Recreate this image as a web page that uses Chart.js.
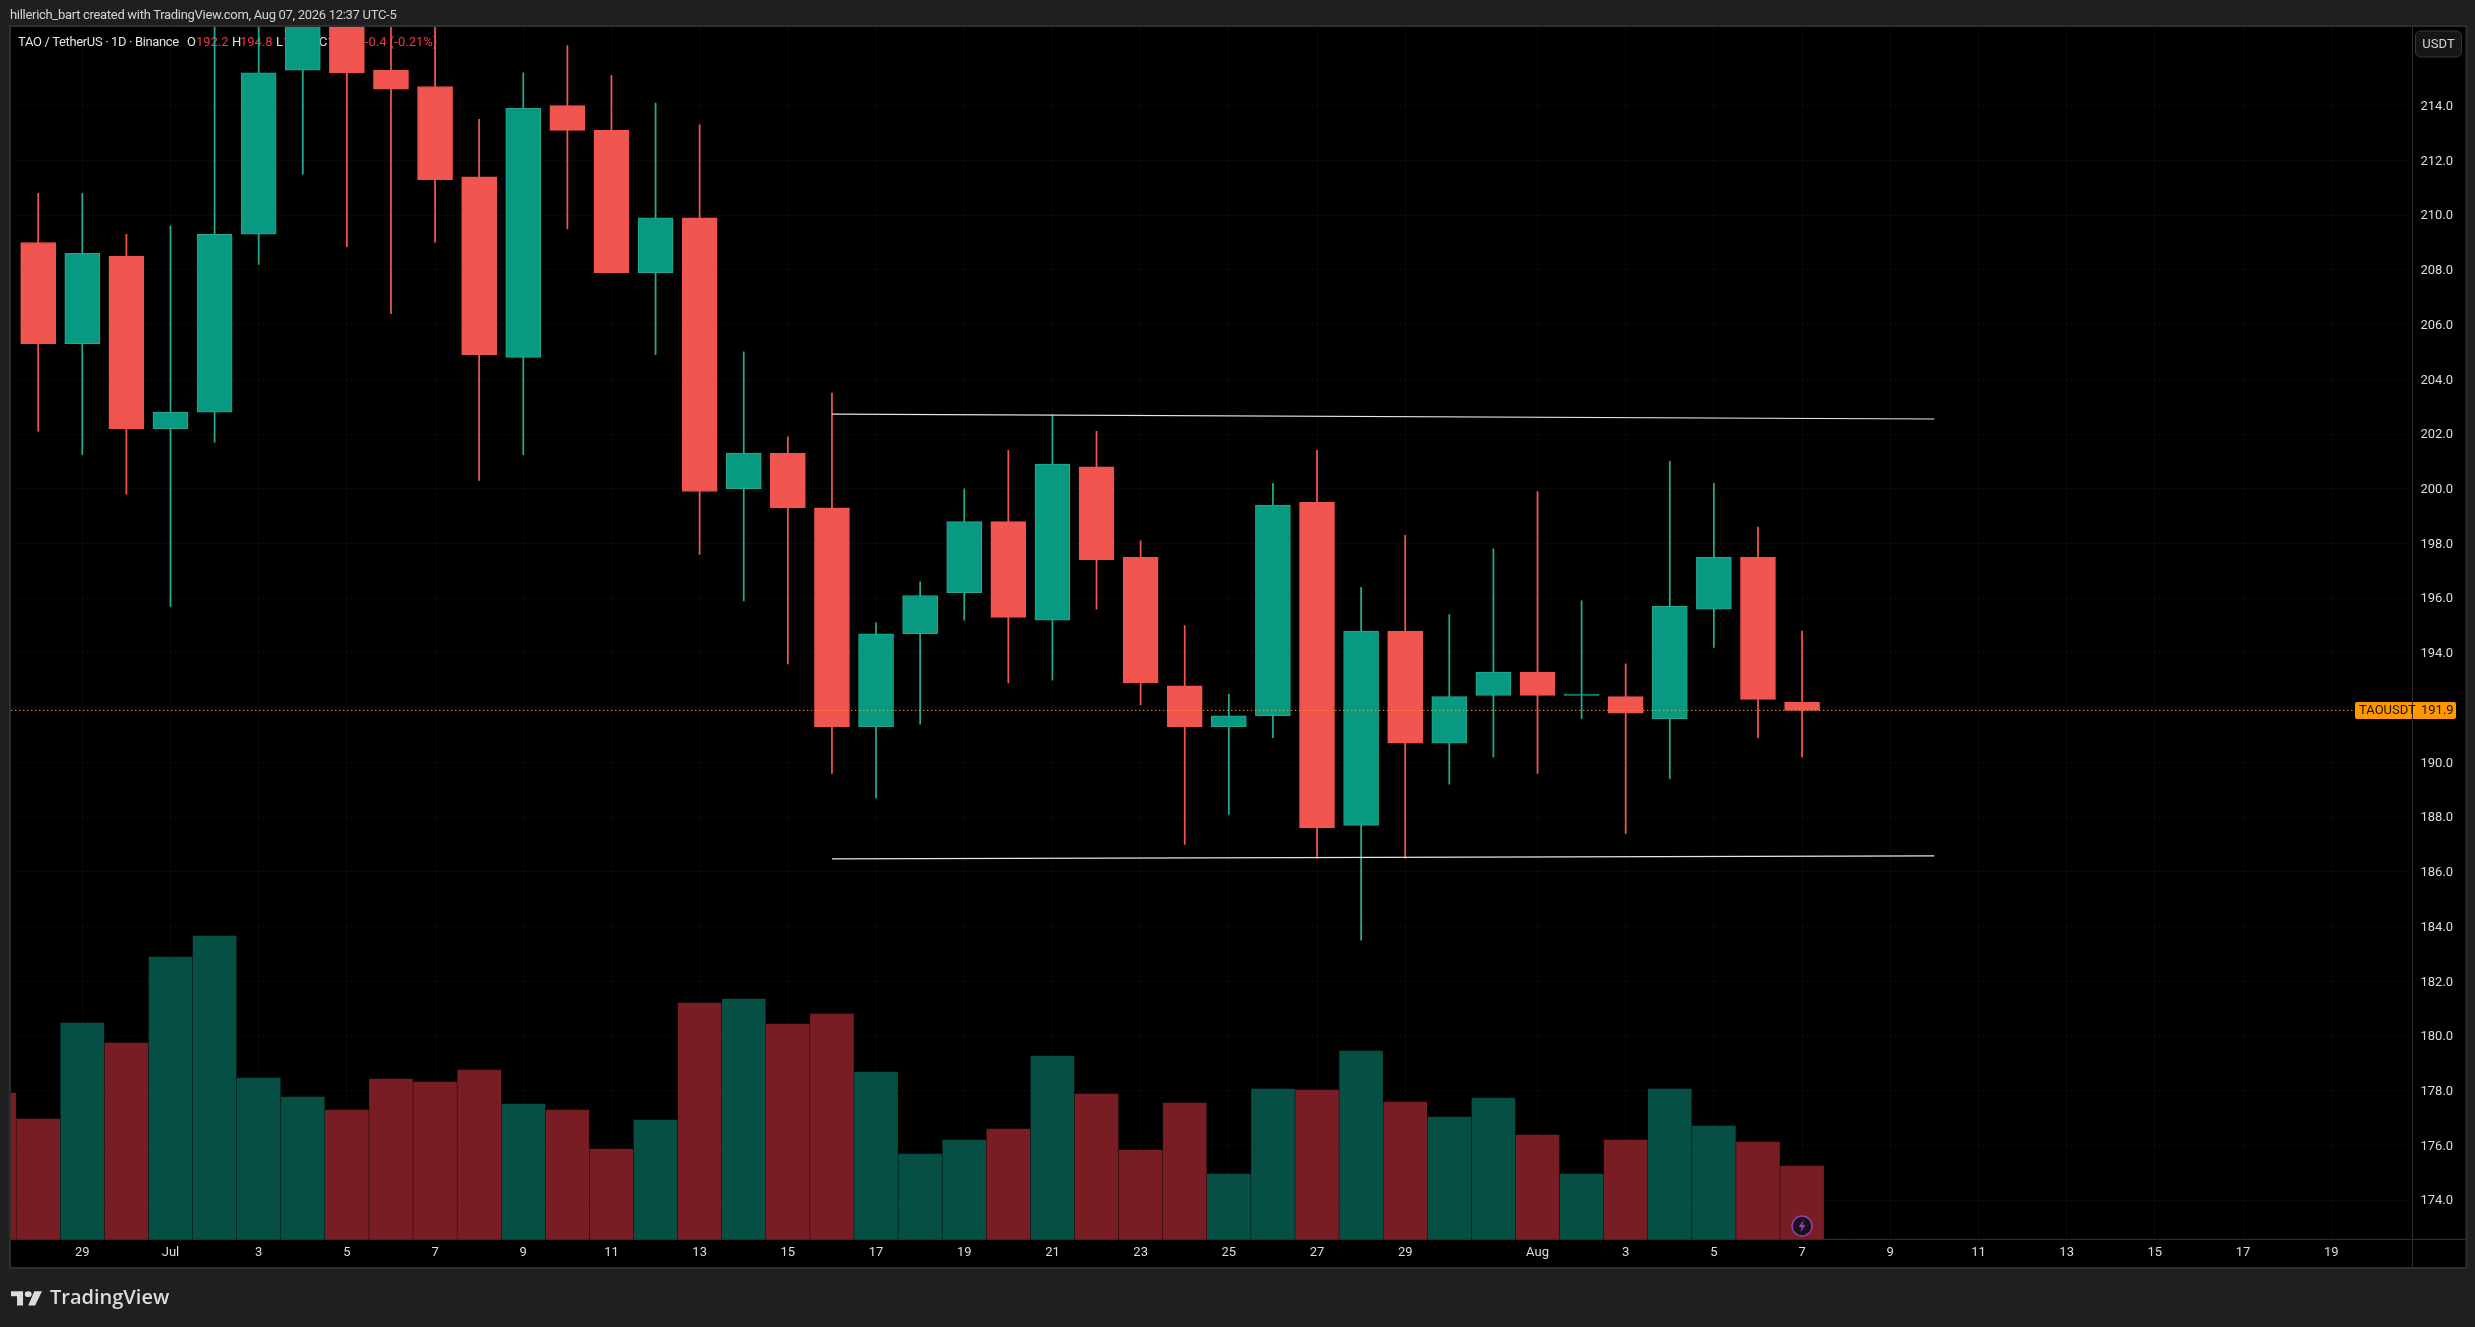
<!DOCTYPE html>
<html>
<head>
<meta charset="utf-8">
<title>TAO / TetherUS</title>
<script src="https://cdn.jsdelivr.net/npm/chart.js@4"></script>
<style>
    html, body { margin: 0; padding: 0; background: #1f1f1f; }
    body { width: 2475px; height: 1327px; position: relative; overflow: hidden; }
    canvas { position: absolute; left: 0; top: 0; }
    .header { position: absolute; left: 10px; top: 6px; font: 13px/18px Roboto, sans-serif; letter-spacing: -0.3px; color: #d4d4d4; white-space: nowrap; }
    .brand { position: absolute; left: 11px; top: 1282px; height: 30px; display: flex; align-items: center; color: #dcdcdc; font: 600 20px/30px "Open Sans", sans-serif; }
    .brand svg { width: 31px; height: 20px; margin-right: 8px; fill: #dcdcdc; }
</style>
</head>
<body>
<canvas id="chart" width="2475" height="1327"></canvas>
<div class="header">hillerich_bart created with TradingView.com, Aug 07, 2026 12:37 UTC-5</div>
<div class="brand"><svg viewBox="0 0 36 28" preserveAspectRatio="none"><path d="M14 6H0v7h7v13h7V6zM28 26h-8L27 6h9l-8 20zM20 14a4 4 0 1 0 0-8 4 4 0 0 0 0 8z"/></svg>TradingView</div>
<script>
// days are counted from Jun 29 = 0, first candle is Jun 28
const firstCandleDay = -1;
const opens  = [209.0, 205.3, 208.5, 202.2, 202.8, 209.3, 215.3, 218.6, 215.3, 214.7, 211.4, 204.8, 214.0, 213.1, 207.9, 209.9, 200.0, 201.3, 199.3, 191.3, 194.7, 196.2, 198.8, 195.2, 200.8, 197.5, 192.8, 191.3, 191.7, 199.5, 187.7, 194.8, 190.7, 192.45, 193.3, 192.45, 192.4, 191.6, 195.6, 197.5, 192.2];
const highs  = [210.8, 210.8, 209.3, 209.6, 218.0, 218.0, 220.0, 221.0, 217.5, 217.5, 213.5, 215.2, 216.2, 215.1, 214.1, 213.3, 205.0, 201.9, 203.5, 195.1, 196.6, 200.0, 201.4, 202.7, 202.1, 198.1, 195.0, 192.5, 200.2, 201.4, 196.4, 198.3, 195.4, 197.8, 199.9, 195.9, 193.6, 201.0, 200.2, 198.6, 194.8];
const lows   = [202.1, 201.25, 199.8, 195.7, 201.7, 208.2, 211.5, 208.85, 206.4, 209.0, 200.3, 201.25, 209.5, 207.9, 204.9, 197.6, 195.9, 193.6, 189.6, 188.7, 191.4, 195.2, 192.9, 193.0, 195.6, 192.1, 187.0, 188.1, 190.9, 186.5, 183.5, 186.5, 189.2, 190.2, 189.6, 191.6, 187.4, 189.4, 194.2, 190.9, 190.2];
const closes = [205.3, 208.6, 202.2, 202.8, 209.3, 215.2, 218.6, 215.2, 214.6, 211.3, 204.9, 213.9, 213.1, 207.9, 209.9, 199.9, 201.3, 199.3, 191.3, 194.7, 196.1, 198.8, 195.3, 200.9, 197.4, 192.9, 191.3, 191.7, 199.4, 187.6, 194.8, 190.7, 192.4, 193.3, 192.45, 192.5, 191.8, 195.7, 197.5, 192.3, 191.9];

// volume starts one day before the candles, partly cut by the left edge
const firstVolumeDay = -2;
const volumes = [14.6, 12.0, 21.6, 19.6, 28.2, 30.3, 16.1, 14.2, 12.9, 16.0, 15.7, 16.9, 13.5, 12.9, 9.0, 11.9, 23.6, 24.0, 21.5, 22.5, 16.7, 8.5, 9.9, 11.0, 18.3, 14.5, 8.9, 13.6, 6.5, 15.0, 14.9, 18.8, 13.7, 12.2, 14.1, 10.4, 6.5, 9.9, 15.0, 11.3, 9.7, 7.3];
const volumeUp = [false, false, true, false, true, true, true, true, false, false, false, false, true, false, false, true, false, true, false, false, true, true, true, false, true, false, false, false, true, true, false, true, false, true, true, false, true, false, true, true, false, false];
const volumeAxisMax = 121.2;

const priceTicks = [174, 176, 178, 180, 182, 184, 186, 188, 190, 192, 194, 196, 198, 200, 202, 204, 206, 208, 210, 212, 214];
const dayTicks = [0, 2, 4, 6, 8, 10, 12, 14, 16, 18, 20, 22, 24, 26, 28, 30, 33, 35, 37, 39, 41, 43, 45, 47, 49, 51];
const dayLabels = ['29', 'Jul', '3', '5', '7', '9', '11', '13', '15', '17', '19', '21', '23', '25', '27', '29', 'Aug', '3', '5', '7', '9', '11', '13', '15', '17', '19'];

const lastPrice = 191.9;
const upperLineDays = [17, 42];
const upperLinePrices = [202.73, 202.55];
const lowerLineDays = [17, 42];
const lowerLinePrices = [186.47, 186.58];

const UP = '#089981', UP_EDGE = '#22ab94', DOWN = '#f15550';
const VOL_UP = '#054f44', VOL_DOWN = '#791d25';
const AXIS_LINE = '#2e2e2e';
const GRID = '#080808';
const FONT = 'Roboto, sans-serif';

const isUp = opens.map((o, i) => closes[i] >= o);
const bodies = opens.map((o, i) => ({ x: firstCandleDay + i, y: [o, closes[i]] }));
const wicks = opens.map((o, i) => ({ x: firstCandleDay + i, y: [lows[i], highs[i]] }));
const volumeBars = volumes.map((v, i) => ({ x: firstVolumeDay + i, y: v }));
const toPoints = (xs, ys) => xs.map((x, i) => ({ x: x, y: ys[i] }));

// black panel and the axis separators behind everything
const panelPlugin = {
    id: 'panel',
    beforeDraw(chart) {
        const c = chart.ctx, a = chart.chartArea;
        c.save();
        c.fillStyle = '#000';
        c.fillRect(a.left, a.top, a.right - a.left + 54, a.bottom - a.top + 28);
        c.strokeStyle = AXIS_LINE;
        c.lineWidth = 2;
        c.strokeRect(a.left - 1, a.top - 1, a.right - a.left + 56, a.bottom - a.top + 30);
        c.lineWidth = 1;
        c.beginPath();
        c.moveTo(a.left, Math.round(a.bottom) + 0.5);
        c.lineTo(a.right + 54, Math.round(a.bottom) + 0.5);
        c.moveTo(Math.round(a.right) + 0.5, a.top);
        c.lineTo(Math.round(a.right) + 0.5, a.bottom + 28);
        c.stroke();
        c.restore();
    }
};

// the OHLC legend sits under the candles in the reference
const legendPlugin = {
    id: 'ohlcLegend',
    beforeDatasetsDraw(chart) {
        const c = chart.ctx;
        const white = '#e3e3e3', red = '#f23645';
        const parts = [
            ['TAO / TetherUS · 1D · Binance', 18, white, '-0.36px'],
            ['O', 187, white, '0px'], ['192.2', 196, red, '0px'],
            ['H', 232, white, '0px'], ['194.8', 240, red, '0px'],
            ['L', 276, white, '0px'], ['190.2', 283, red, '0px'],
            ['C', 319, white, '0px'], ['191.9', 327, red, '0px'],
            ['-0.4 (-0.21%)', 365, red, '0px']
        ];
        c.save();
        c.font = '13px ' + FONT;
        c.textBaseline = 'middle';
        parts.forEach(function(p) {
            c.fillStyle = p[2];
            c.letterSpacing = p[3];
            c.fillText(p[0], p[1], 43);
        });
        c.restore();
    }
};

// price tag, USDT button and the flash icon go on top
const overlayPlugin = {
    id: 'overlay',
    afterDraw(chart) {
        const c = chart.ctx, a = chart.chartArea;
        const axisX = Math.round(a.right);
        const tagY = Math.round(chart.scales.y.getPixelForValue(lastPrice));
        c.save();

        c.fillStyle = '#ff9800';
        c.beginPath();
        c.roundRect(axisX - 57, tagY - 8, 101, 17, 2);
        c.fill();
        c.fillStyle = '#2e2e2e';
        c.fillRect(axisX, tagY - 8, 1, 17);
        c.fillStyle = '#131313';
        c.font = '13px ' + FONT;
        c.textBaseline = 'middle';
        c.textAlign = 'left';
        c.fillText('TAOUSDT', axisX - 53, tagY + 1);
        c.fillText('191.9', axisX + 9, tagY + 1);

        c.fillStyle = '#161616';
        c.strokeStyle = '#363636';
        c.lineWidth = 1;
        c.beginPath();
        c.roundRect(axisX + 3.5, 31, 46, 26, 5);
        c.fill();
        c.stroke();
        c.fillStyle = '#d4d4d4';
        c.textAlign = 'center';
        c.fillText('USDT', axisX + 26.5, 44.5);

        const ix = chart.scales.x.getPixelForValue(firstCandleDay + opens.length - 1);
        const iy = a.bottom - 13;
        c.beginPath();
        c.arc(ix, iy, 10, 0, Math.PI * 2);
        c.fillStyle = '#15131c';
        c.fill();
        c.strokeStyle = '#9c3ab8';
        c.lineWidth = 1.5;
        c.stroke();
        c.fillStyle = '#9c3ab8';
        c.beginPath();
        c.moveTo(ix + 1.5, iy - 6);
        c.lineTo(ix - 3.5, iy + 1);
        c.lineTo(ix - 0.5, iy + 1);
        c.lineTo(ix - 1.5, iy + 6);
        c.lineTo(ix + 3.5, iy - 1);
        c.lineTo(ix + 0.5, iy - 1);
        c.closePath();
        c.fill();
        c.restore();
    }
};

new Chart(document.getElementById('chart').getContext('2d'), {
    type: 'bar',
    data: {
        datasets: [
            {
                type: 'line',
                data: toPoints([-1.62, 52.82], [lastPrice, lastPrice]),
                borderColor: '#ff9800',
                borderWidth: 1,
                borderDash: [1.5, 2.5],
                pointRadius: 0,
                yAxisID: 'y',
                order: 0
            },
            {
                type: 'line',
                data: toPoints(upperLineDays, upperLinePrices),
                borderColor: '#e6e6e6',
                borderWidth: 1.2,
                pointRadius: 0,
                yAxisID: 'y',
                order: 0
            },
            {
                type: 'line',
                data: toPoints(lowerLineDays, lowerLinePrices),
                borderColor: '#e6e6e6',
                borderWidth: 1.2,
                pointRadius: 0,
                yAxisID: 'y',
                order: 0
            },
            {
                data: bodies,
                backgroundColor: isUp.map(u => u ? UP : DOWN),
                borderColor: isUp.map(u => u ? UP_EDGE : DOWN),
                borderWidth: 1,
                borderSkipped: false,
                barThickness: 35,
                maxBarThickness: 35,
                grouped: false,
                yAxisID: 'y',
                order: 1
            },
            {
                data: wicks,
                backgroundColor: isUp.map(u => u ? UP_EDGE : DOWN),
                borderWidth: 0,
                barThickness: 1.1,
                maxBarThickness: 1.1,
                grouped: false,
                yAxisID: 'y',
                order: 2
            },
            {
                data: volumeBars,
                backgroundColor: volumeUp.map(u => u ? VOL_UP : VOL_DOWN),
                borderWidth: 0,
                barThickness: 43,
                maxBarThickness: 43,
                grouped: false,
                yAxisID: 'volume',
                order: 3
            }
        ]
    },
    options: {
        responsive: false,
        animation: false,
        devicePixelRatio: 1,
        layout: { padding: { left: 11, top: 27, right: 9.5, bottom: 60 } },
        plugins: { legend: { display: false }, tooltip: { enabled: false } },
        scales: {
            x: {
                type: 'linear',
                offset: false,
                min: -1.617,
                max: 52.82,
                afterBuildTicks: s => { s.ticks = dayTicks.map(d => ({ value: d })); },
                afterFit: s => { s.height = 28; },
                grid: { offset: false, color: GRID, lineWidth: 1, tickLength: 0 },
                border: { display: false },
                ticks: {
                    autoSkip: false,
                    maxRotation: 0,
                    padding: 6,
                    color: '#dedede',
                    font: { family: FONT, size: 13 },
                    callback: v => dayLabels[dayTicks.indexOf(v)]
                }
            },
            y: {
                position: 'right',
                min: 172.58,
                max: 216.876,
                afterBuildTicks: s => { s.ticks = priceTicks.map(v => ({ value: v })); },
                afterFit: s => { s.width = 54; },
                grid: { color: GRID, lineWidth: 1, tickLength: 0 },
                border: { display: false },
                ticks: {
                    autoSkip: false,
                    padding: 9,
                    labelOffset: 1,
                    crossAlign: 'near',
                    color: '#dedede',
                    font: { family: FONT, size: 13 },
                    callback: v => v.toFixed(1)
                }
            },
            volume: {
                display: false,
                min: 0,
                max: volumeAxisMax
            }
        }
    },
    plugins: [panelPlugin, legendPlugin, overlayPlugin]
});
</script>
</body>
</html>
